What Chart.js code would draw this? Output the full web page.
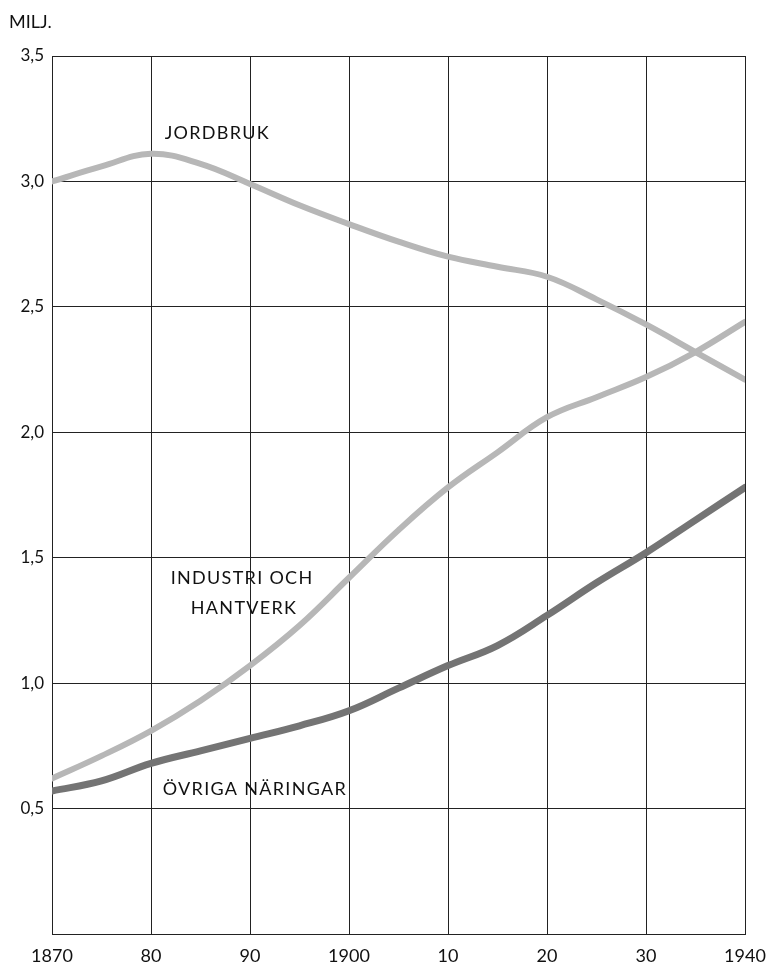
<!DOCTYPE html>
<html>
<head>
<meta charset="utf-8">
<script src="https://cdn.jsdelivr.net/npm/chart.js@4"></script>
<style>
  body { margin: 0; background: #fff; }
  canvas { display: block; }
</style>
</head>
<body>
<canvas id="myChart" width="772" height="965"></canvas>
<script>
// År och värden (miljoner personer)
const years = [1870, 1875, 1880, 1885, 1890, 1895, 1900, 1905, 1910, 1915, 1920, 1925, 1930, 1935, 1940];
const jordbruk = [3.00, 3.06, 3.11, 3.07, 2.99, 2.905, 2.83, 2.76, 2.70, 2.66, 2.62, 2.53, 2.43, 2.32, 2.21];
const industri = [0.62, 0.71, 0.81, 0.93, 1.07, 1.23, 1.42, 1.61, 1.78, 1.92, 2.06, 2.14, 2.22, 2.32, 2.44];
const ovriga = [0.57, 0.61, 0.68, 0.73, 0.78, 0.83, 0.89, 0.98, 1.07, 1.15, 1.27, 1.40, 1.52, 1.65, 1.78];
const yTicks = [0, 0.5, 1.0, 1.5, 2.0, 2.5, 3.0, 3.5];
const xTicks = [1870, 1880, 1890, 1900, 1910, 1920, 1930, 1940];

const FONT = 'Lato, "DejaVu Sans", sans-serif';

// text i diagrammet
const textPlugin = {
  id: 'texter',
  afterDraw(chart) {
    const c = chart.ctx;
    const x = chart.scales.x, y = chart.scales.y;
    c.save();
    c.fillStyle = '#111';
    c.textBaseline = 'middle';
    c.font = '18px ' + FONT;
    c.textAlign = 'left';
    c.fillText('MILJ.', 9, 22);

    c.letterSpacing = '1.3px';
    c.textAlign = 'center';
    const labels = [
      ['JORDBRUK', 1886.7, 3.194],
      ['INDUSTRI OCH', 1889.2, 1.42],
      ['HANTVERK', 1889.4, 1.30],
      ['ÖVRIGA NÄRINGAR', 1890.5, 0.576]
    ];
    labels.forEach(l => {
      c.fillText(l[0], x.getPixelForValue(l[1]), y.getPixelForValue(l[2]));
    });
    c.restore();
  }
};

function toXY(vals) {
  return years.map((yr, i) => ({ x: yr, y: vals[i] }));
}

const ctx = document.getElementById('myChart');

new Chart(ctx, {
  type: 'line',
  data: {
    datasets: [{
      label: 'Jordbruk',
      data: toXY(jordbruk),
      borderColor: '#b7b7b7',
      borderWidth: 6
    }, {
      label: 'Industri och hantverk',
      data: toXY(industri),
      borderColor: '#b7b7b7',
      borderWidth: 6
    }, {
      label: 'Övriga näringar',
      data: toXY(ovriga),
      borderColor: '#747474',
      borderWidth: 7
    }]
  },
  options: {
    responsive: false,
    animation: false,
    events: [],
    layout: { padding: { left: 0, right: 27, top: 56, bottom: 0 } },
    elements: {
      point: { radius: 0 },
      line: { tension: 0.4, borderCapStyle: 'round' }
    },
    plugins: {
      legend: { display: false },
      tooltip: { enabled: false }
    },
    scales: {
      x: {
        type: 'linear',
        min: 1870,
        max: 1940,
        afterBuildTicks(scale) {
          scale.ticks = xTicks.map(v => ({ value: v }));
        },
        afterFit(scale) {
          scale.height = 31;
          scale.paddingLeft = 0;
          scale.paddingRight = 0;
        },
        grid: { color: '#222', lineWidth: 1, drawTicks: false },
        border: { color: '#222', width: 1 },
        ticks: {
          padding: 11,
          maxRotation: 0,
          autoSkip: false,
          color: '#111',
          font: { family: FONT, size: 18 },
          callback(v) {
            if (v === 1870 || v === 1900 || v === 1940) return String(v);
            return String(v).slice(2);
          }
        }
      },
      y: {
        min: 0,
        max: 3.5,
        afterBuildTicks(scale) {
          scale.ticks = yTicks.map(v => ({ value: v }));
        },
        afterFit(scale) {
          scale.width = 52;
          scale.paddingTop = 0;
          scale.paddingBottom = 0;
        },
        grid: { color: '#222', lineWidth: 1, drawTicks: false },
        border: { color: '#222', width: 1 },
        ticks: {
          padding: 8,
          color: '#111',
          font: { family: FONT, size: 17 },
          callback(v) {
            if (v === 0) return '';
            return v.toFixed(1).replace('.', ',');
          }
        }
      }
    }
  },
  plugins: [textPlugin]
});
</script>
</body>
</html>
